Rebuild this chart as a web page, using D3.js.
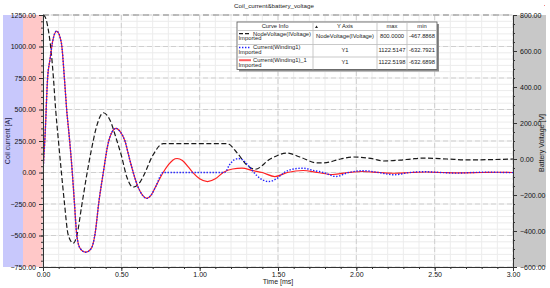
<!DOCTYPE html>
<html>
<head>
<meta charset="utf-8">
<script src="https://cdn.jsdelivr.net/npm/d3@7"></script>
<style>
  body { margin: 0; background: #fff; }
  svg { display: block; font-family: "Liberation Sans", Arial, sans-serif; }
</style>
</head>
<body>
<svg id="chart" width="550" height="288"></svg>
<script>
const title = "Coil_current&battery_voltage";
const xLabel = "Time [ms]";
const yLeftLabel = "Coil current [A]";
const yRightLabel = "Battery Voltage [V]";

const timeDomain = [0, 3];
const currentDomain = [-750, 1250];
const voltageDomain = [-600, 800];
const timeTicks = [0, 0.5, 1, 1.5, 2, 2.5, 3];
const currentTicks = [-750, -500, -250, 0, 250, 500, 750, 1000, 1250];
const voltageTicks = [-600, -400, -200, 0, 200, 400, 600, 800];

// [time ms, volts]
const nodeVoltage = [
  [0, 800], [0.013, 790], [0.034, 717], [0.051, 606], [0.066, 457], [0.081, 272],
  [0.098, 106], [0.115, -52], [0.136, -237], [0.161, -422], [0.193, -467.9],
  [0.215, -430], [0.247, -260], [0.279, -90], [0.311, 60], [0.345, 190],
  [0.385, 257], [0.428, 215], [0.47, 106], [0.5, 20], [0.535, -100], [0.574, -156],
  [0.61, -140], [0.638, -100], [0.702, 22], [0.766, 85], [1.176, 85], [1.24, 33],
  [1.3, -33], [1.355, -57], [1.45, 0], [1.56, 33], [1.64, 11], [1.75, -22],
  [1.79, -22], [1.9, 0], [1.98, 11], [2.11, 0], [2.17, -11], [2.28, -6], [2.35, 0],
  [2.43, 5], [2.58, 0], [2.71, -5], [3, 0]
];

// [time ms, amps]
const currentWinding1 = [
  [0, 0], [0.013, 290], [0.03, 760], [0.045, 900], [0.06, 1030], [0.087, 1122.5],
  [0.117, 1030], [0.136, 760], [0.151, 500], [0.168, 280], [0.187, 0], [0.2, -230],
  [0.215, -490], [0.236, -600], [0.272, -632.8], [0.309, -600], [0.332, -490],
  [0.357, -230], [0.385, 0], [0.413, 215], [0.44, 320], [0.466, 350], [0.495, 320],
  [0.523, 250], [0.55, 120], [0.576, 0], [0.605, -110], [0.635, -180], [0.662, -205],
  [0.69, -180], [0.72, -110], [0.767, 0], [1.16, 0], [1.19, 60], [1.22, 100],
  [1.25, 111], [1.28, 95], [1.32, 40], [1.35, -5], [1.39, -50], [1.44, -72],
  [1.49, -50], [1.54, 0], [1.6, 28], [1.66, 34], [1.73, 15], [1.79, 0], [1.87, -32],
  [1.95, 0], [2.05, 14], [2.14, 0], [2.24, -18], [2.34, 0], [2.43, 6], [2.54, 0],
  [2.64, -5], [2.74, 0], [2.84, 3], [2.94, 0], [3, -1]
];

const currentWinding1_1 = [
  [0, 0], [0.013, 290], [0.03, 760], [0.045, 900], [0.06, 1030], [0.087, 1122.5],
  [0.117, 1030], [0.136, 760], [0.151, 500], [0.168, 280], [0.187, 0], [0.2, -230],
  [0.215, -490], [0.236, -600], [0.272, -632.7], [0.309, -600], [0.332, -490],
  [0.357, -230], [0.385, 0], [0.413, 215], [0.44, 320], [0.466, 350], [0.495, 320],
  [0.523, 250], [0.55, 120], [0.576, 0], [0.605, -110], [0.635, -180], [0.662, -205],
  [0.69, -180], [0.72, -110], [0.767, 0], [0.8, 60], [0.83, 100], [0.856, 111],
  [0.89, 95], [0.93, 40], [0.96, -5], [1, -50], [1.05, -72], [1.1, -50], [1.15, 0],
  [1.21, 28], [1.27, 34], [1.34, 15], [1.4, 0], [1.48, -32], [1.56, 0], [1.66, 16],
  [1.75, 0], [1.85, -16], [1.95, 0], [2.04, 8], [2.15, 0], [2.25, -6], [2.35, 0],
  [2.45, 4], [2.55, 0], [2.65, -3], [2.8, 0], [2.9, 2], [3, 0]
];

const legendNames = ["NodeVoltage(IVoltage)", "Current(Winding1)", "Current(Winding1)_1"];
const legendAxes = ["NodeVoltage(IVoltage)", "Y1", "Y1"];
const legendMax = ["800.0000", "1122.5147", "1122.5198"];
const legendMin = ["-467.8868", "-632.7921", "-632.6898"];

const plotLeft = 43, plotRight = 513, plotTop = 15, plotBottom = 267;
const svg = d3.select("#chart");

const x = d3.scaleLinear().domain(timeDomain).range([plotLeft, plotRight]);
const yL = d3.scaleLinear().domain(currentDomain).range([plotBottom, plotTop]);
const yR = d3.scaleLinear().domain(voltageDomain).range([plotBottom, plotTop]);

// side bands
svg.append("rect").attr("x", 3).attr("y", plotTop).attr("width", 20).attr("height", plotBottom - plotTop).attr("fill", "#c8c8fc");
svg.append("rect").attr("x", 23).attr("y", plotTop).attr("width", plotLeft - 23).attr("height", plotBottom - plotTop).attr("fill", "#ffc8c8");
svg.append("rect").attr("x", plotRight).attr("y", plotTop).attr("width", 33).attr("height", plotBottom - plotTop).attr("fill", "#c8c8c8");
svg.append("rect").attr("x", 544).attr("y", 5).attr("width", 1).attr("height", 1).attr("fill", "#e88");

// grid
const grid = svg.append("g");
grid.selectAll(".vmin").data(x.ticks(30)).enter().append("line")
  .attr("x1", (d) => x(d)).attr("x2", (d) => x(d)).attr("y1", plotTop).attr("y2", plotBottom)
  .attr("stroke", "#ececec").attr("stroke-width", 1);
grid.selectAll(".hmin").data(yL.ticks(40)).enter().append("line")
  .attr("x1", plotLeft).attr("x2", plotRight).attr("y1", (d) => yL(d)).attr("y2", (d) => yL(d))
  .attr("stroke", "#ececec").attr("stroke-width", 1);
grid.selectAll(".vmaj").data(timeTicks).enter().append("line")
  .attr("x1", (d) => x(d)).attr("x2", (d) => x(d)).attr("y1", plotTop).attr("y2", plotBottom)
  .attr("stroke", "#cfcfcf").attr("stroke-dasharray", "5,3");
grid.selectAll(".hmaj").data(currentTicks).enter().append("line")
  .attr("x1", plotLeft).attr("x2", plotRight).attr("y1", (d) => yL(d)).attr("y2", (d) => yL(d))
  .attr("stroke", "#cfcfcf").attr("stroke-dasharray", "5,3");

// top border
svg.append("line").attr("x1", plotLeft).attr("x2", plotRight).attr("y1", plotTop).attr("y2", plotTop)
  .attr("stroke", "#aaa").attr("stroke-width", 1.6).attr("stroke-dasharray", "6,4");

// curves
svg.append("clipPath").attr("id", "clip").append("rect")
  .attr("x", plotLeft).attr("y", plotTop - 2).attr("width", plotRight - plotLeft).attr("height", plotBottom - plotTop + 2);
const plot = svg.append("g").attr("clip-path", "url(#clip)");

const lineL = d3.line().x((d) => x(d[0])).y((d) => yL(d[1])).curve(d3.curveMonotoneX);
const lineR = d3.line().x((d) => x(d[0])).y((d) => yR(d[1])).curve(d3.curveMonotoneX);

plot.append("path").datum(nodeVoltage).attr("d", lineR)
  .attr("fill", "none").attr("stroke", "#1a1a1a").attr("stroke-width", 1.2).attr("stroke-dasharray", "5,2.5");
plot.append("path").datum(currentWinding1_1).attr("d", lineL)
  .attr("fill", "none").attr("stroke", "#ff2020").attr("stroke-width", 1.2);
plot.append("path").datum(currentWinding1).attr("d", lineL)
  .attr("fill", "none").attr("stroke", "#2020ff").attr("stroke-width", 1.4).attr("stroke-dasharray", "1.4,1.6");

// axes
const tickFont = (g) => g.selectAll("text").attr("font-size", 7).attr("fill", "#111");
const fmt = d3.format(".2f");

svg.append("g").attr("transform", `translate(${plotLeft},0)`)
  .call(d3.axisLeft(yL).tickValues(yL.ticks(40)).tickSize(2).tickFormat(""))
  .call((g) => g.select(".domain").remove());
svg.append("g").attr("transform", `translate(${plotLeft},0)`)
  .call(d3.axisLeft(yL).tickValues(currentTicks).tickSize(4).tickPadding(3).tickFormat(fmt).tickSizeOuter(0))
  .call(tickFont);

svg.append("g").attr("transform", `translate(${plotRight},0)`)
  .call(d3.axisRight(yR).tickValues(yR.ticks(28)).tickSize(2).tickFormat(""))
  .call((g) => g.select(".domain").remove());
svg.append("g").attr("transform", `translate(${plotRight},0)`)
  .call(d3.axisRight(yR).tickValues(voltageTicks).tickSize(4).tickPadding(3).tickFormat(fmt).tickSizeOuter(0))
  .call(tickFont);

svg.append("g").attr("transform", `translate(0,${plotBottom})`)
  .call(d3.axisBottom(x).tickValues(x.ticks(30)).tickSize(2).tickFormat(""))
  .call((g) => g.select(".domain").remove());
svg.append("g").attr("transform", `translate(0,${plotBottom})`)
  .call(d3.axisBottom(x).tickValues(timeTicks).tickSize(4).tickPadding(1).tickFormat(fmt).tickSizeOuter(0))
  .call(tickFont);

svg.selectAll(".domain").attr("stroke", "#333");
svg.selectAll(".tick line").attr("stroke", "#333");

// titles
svg.append("text").attr("x", 274).attr("y", 8).attr("text-anchor", "middle")
  .attr("font-size", 6.2).attr("fill", "#222").text(title);
svg.append("text").attr("x", 278).attr("y", 284).attr("text-anchor", "middle")
  .attr("font-size", 7).attr("fill", "#222").text(xLabel);
svg.append("text").attr("transform", "translate(10,141) rotate(-90)").attr("text-anchor", "middle")
  .attr("font-size", 7).attr("fill", "#1c1c44").text(yLeftLabel);
svg.append("text").attr("transform", "translate(544,143) rotate(-90)").attr("text-anchor", "middle")
  .attr("font-size", 7).attr("fill", "#222").text(yRightLabel);

// legend table
const lx = 237, ly = 22, lw = 200, lh = 47.5;
const colX = [lx, 313, 377, 407, lx + lw];
const rowY = [ly, 30.5, 44.5, 57, ly + lh];
const legend = svg.append("g").attr("font-size", 5.8).attr("fill", "#222");
legend.append("rect").attr("x", lx + 2).attr("y", ly + 2).attr("width", lw).attr("height", lh).attr("fill", "#8c8c8c");
legend.append("rect").attr("x", lx).attr("y", ly).attr("width", lw).attr("height", lh)
  .attr("fill", "#fff").attr("stroke", "#555").attr("stroke-width", 0.8);
colX.slice(1, 4).forEach((cx) => legend.append("line").attr("x1", cx).attr("x2", cx)
  .attr("y1", ly).attr("y2", ly + lh).attr("stroke", "#bbb").attr("stroke-width", 0.8));
rowY.slice(1, 4).forEach((ry) => legend.append("line").attr("x1", lx).attr("x2", lx + lw)
  .attr("y1", ry).attr("y2", ry).attr("stroke", "#bbb").attr("stroke-width", 0.8));

const headers = ["Curve Info", "Y Axis", "max", "min"];
headers.forEach((h, i) => legend.append("text")
  .attr("x", (colX[i] + colX[i + 1]) / 2).attr("y", 28).attr("text-anchor", "middle").text(h));
legend.append("path").attr("d", "M315,28 L318,28 L316.5,25.5 Z").attr("fill", "#222");

const sampleStyle = [
  { stroke: "#1a1a1a", width: 1.2, dash: "4,2" },
  { stroke: "#2020ff", width: 1.4, dash: "1.4,1.6" },
  { stroke: "#ff6060", width: 2, dash: null }
];
const nameY = [35.5, 49.3, 62];
const valueY = [38, 51.8, 64];
legendNames.forEach((name, i) => {
  const ry = nameY[i];
  legend.append("line").attr("x1", 239).attr("x2", 251).attr("y1", ry - 1.8).attr("y2", ry - 1.8)
    .attr("stroke", sampleStyle[i].stroke).attr("stroke-width", sampleStyle[i].width)
    .attr("stroke-dasharray", sampleStyle[i].dash);
  legend.append("text").attr("x", 253).attr("y", ry).text(name);
  legend.append("text").attr("x", 238.5).attr("y", ry + 4.6).text("Imported");
  legend.append("text").attr("x", (colX[1] + colX[2]) / 2).attr("y", valueY[i]).attr("text-anchor", "middle").text(legendAxes[i]);
  legend.append("text").attr("x", (colX[2] + colX[3]) / 2).attr("y", valueY[i]).attr("text-anchor", "middle").text(legendMax[i]);
  legend.append("text").attr("x", (colX[3] + colX[4]) / 2).attr("y", valueY[i]).attr("text-anchor", "middle").text(legendMin[i]);
});
</script>
</body>
</html>
